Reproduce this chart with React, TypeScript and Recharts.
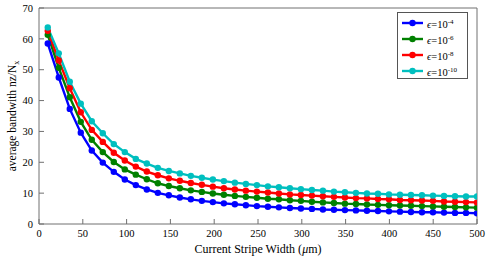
import React from 'react';
import { LineChart, Line, XAxis, YAxis } from 'recharts';

const xValues = [
  10, 22.56, 35.13, 47.69, 60.26, 72.82, 85.38, 97.95, 110.51, 123.08,
  135.64, 148.21, 160.77, 173.33, 185.9, 198.46, 211.03, 223.59, 236.15, 248.72,
  261.28, 273.85, 286.41, 298.97, 311.54, 324.1, 336.67, 349.23, 361.79, 374.36,
  386.92, 399.49, 412.05, 424.62, 437.18, 449.74, 462.31, 474.87, 487.44, 500,
];

const eps4 = [
  58.5, 47.5, 37.3, 29.6, 23.8, 19.9, 16.9, 14.4, 12.6, 11.2,
  10.1, 9.3, 8.6, 8.0, 7.5, 7.1, 6.7, 6.4, 6.1, 5.8,
  5.6, 5.4, 5.2, 5.0, 4.9, 4.7, 4.6, 4.5, 4.4, 4.3,
  4.2, 4.1, 4.0, 3.9, 3.8, 3.8, 3.7, 3.6, 3.6, 3.5,
];

const eps6 = [
  61.3, 50.6, 41.1, 33.1, 27.3, 23.3, 20.1, 17.7, 16.0, 14.5,
  13.2, 12.3, 11.6, 10.9, 10.4, 9.9, 9.5, 9.1, 8.8, 8.5,
  8.2, 8.0, 7.7, 7.5, 7.2, 7.0, 6.8, 6.6, 6.5, 6.3,
  6.2, 6.1, 6.0, 5.9, 5.8, 5.7, 5.6, 5.5, 5.4, 5.3,
];

const eps8 = [
  62.6, 53.0, 44.0, 36.2, 30.5, 26.6, 23.1, 20.6, 18.6, 17.0,
  15.8, 14.8, 14.0, 13.3, 12.7, 12.1, 11.6, 11.2, 10.8, 10.5,
  10.2, 9.9, 9.6, 9.4, 9.2, 9.0, 8.8, 8.6, 8.4, 8.3,
  8.1, 8.0, 7.8, 7.7, 7.6, 7.5, 7.3, 7.2, 7.1, 7.0,
];

const eps10 = [
  63.7, 55.3, 46.1, 39.0, 33.3, 29.4, 25.9, 23.3, 21.1, 19.6,
  18.2, 17.2, 16.4, 15.6, 15.0, 14.4, 13.9, 13.4, 13.0, 12.6,
  12.2, 11.9, 11.6, 11.3, 11.0, 10.8, 10.5, 10.3, 10.1, 9.9,
  9.8, 9.6, 9.5, 9.4, 9.3, 9.2, 9.1, 9.0, 8.9, 8.9,
];

const xTicks = [0, 50, 100, 150, 200, 250, 300, 350, 400, 450, 500];
const yTicks = [0, 10, 20, 30, 40, 50, 60, 70];

const seriesDefs = [
  { key: 'e4', exp: '-4', color: '#0000ff', values: eps4 },
  { key: 'e6', exp: '-6', color: '#008000', values: eps6 },
  { key: 'e8', exp: '-8', color: '#ff0000', values: eps8 },
  { key: 'e10', exp: '-10', color: '#00bfbf', values: eps10 },
];

const data = xValues.map((x, i) => {
  const row: Record<string, number> = { x };
  seriesDefs.forEach((s) => {
    row[s.key] = s.values[i];
  });
  return row;
});

const FONT = '"Liberation Serif", "DejaVu Serif", serif';
const AXIS = '#707070';

const tickStyle = { fill: '#000', fontSize: 10.5, fontFamily: FONT };

const LegendBox = () => (
  <div
    style={{
      position: 'absolute',
      left: 397,
      top: 12,
      border: '1px solid #555',
      background: '#fff',
      width: 71,
      height: 67,
      boxSizing: 'border-box',
      paddingTop: 2,
      fontFamily: FONT,
    }}
  >
    {seriesDefs.map((s) => (
      <div
        key={s.key}
        style={{ display: 'flex', alignItems: 'center', height: 16, lineHeight: '16px' }}
      >
        <svg width={26} height={10} style={{ marginLeft: 3, flex: 'none' }}>
          <line x1={1} y1={5} x2={22} y2={5} stroke={s.color} strokeWidth={2.4} />
          <circle cx={11.5} cy={5} r={3.2} fill={s.color} />
        </svg>
        <span style={{ fontSize: 10.5, color: '#000', whiteSpace: 'nowrap' }}>
          <i>ϵ</i>=10<sup style={{ fontSize: 7, verticalAlign: 4 }}>{s.exp}</sup>
        </span>
      </div>
    ))}
  </div>
);

const XLabel = (props: any) => {
  const vb = props.viewBox || {};
  return (
    <text
      x={vb.x + vb.width / 2}
      y={vb.y + 29}
      textAnchor="middle"
      fontFamily={FONT}
      fontSize={12}
      fill="#000"
    >
      Current Stripe Width (<tspan fontStyle="italic">μ</tspan>m)
    </text>
  );
};

const YLabel = (props: any) => {
  const vb = props.viewBox || {};
  const cy = vb.y + vb.height / 2;
  return (
    <text
      transform={`translate(12, ${cy}) rotate(-90)`}
      textAnchor="middle"
      dy="0.35em"
      fontFamily={FONT}
      fontSize={11.5}
      fill="#000"
    >
      average bandwith nz/N
      <tspan fontSize={8} dy={3}>x</tspan>
    </text>
  );
};

export default function App() {
  return (
    <div style={{ position: 'absolute', left: 0, top: 0, width: 490, height: 260, background: '#fff' }}>
      <LineChart
        width={490}
        height={260}
        data={data}
        margin={{ top: 7, right: 12, bottom: 0, left: 0 }}
      >
        <XAxis
          dataKey="x"
          type="number"
          domain={[0, 500]}
          ticks={xTicks}
          interval={0}
          allowDataOverflow
          height={36}
          tickSize={-5}
          tickMargin={11}
          tick={tickStyle}
          stroke={AXIS}
          tickLine={{ stroke: AXIS }}
          axisLine={{ stroke: AXIS }}
          label={<XLabel />}
        />
        <XAxis
          xAxisId="top"
          orientation="top"
          dataKey="x"
          type="number"
          domain={[0, 500]}
          ticks={xTicks}
          interval={0}
          allowDataOverflow
          height={1}
          tickSize={-5}
          tick={false}
          stroke={AXIS}
          tickLine={{ stroke: AXIS }}
          axisLine={{ stroke: AXIS }}
        />
        <YAxis
          type="number"
          domain={[0, 70]}
          ticks={yTicks}
          interval={0}
          allowDataOverflow
          width={39}
          tickSize={-5}
          tickMargin={11}
          tick={tickStyle}
          stroke={AXIS}
          tickLine={{ stroke: AXIS }}
          axisLine={{ stroke: AXIS }}
          label={<YLabel />}
        />
        <YAxis
          yAxisId="right"
          orientation="right"
          type="number"
          domain={[0, 70]}
          ticks={yTicks}
          interval={0}
          allowDataOverflow
          width={1}
          tickSize={-5}
          tick={false}
          stroke={AXIS}
          tickLine={{ stroke: AXIS }}
          axisLine={{ stroke: AXIS }}
        />
        {seriesDefs.map((s) => (
          <Line
            key={s.key}
            dataKey={s.key}
            type="linear"
            stroke={s.color}
            strokeWidth={2.4}
            dot={{ r: 3.2, fill: s.color, stroke: s.color, strokeWidth: 0 }}
            isAnimationActive={false}
          />
        ))}
      </LineChart>
      <LegendBox />
    </div>
  );
}
